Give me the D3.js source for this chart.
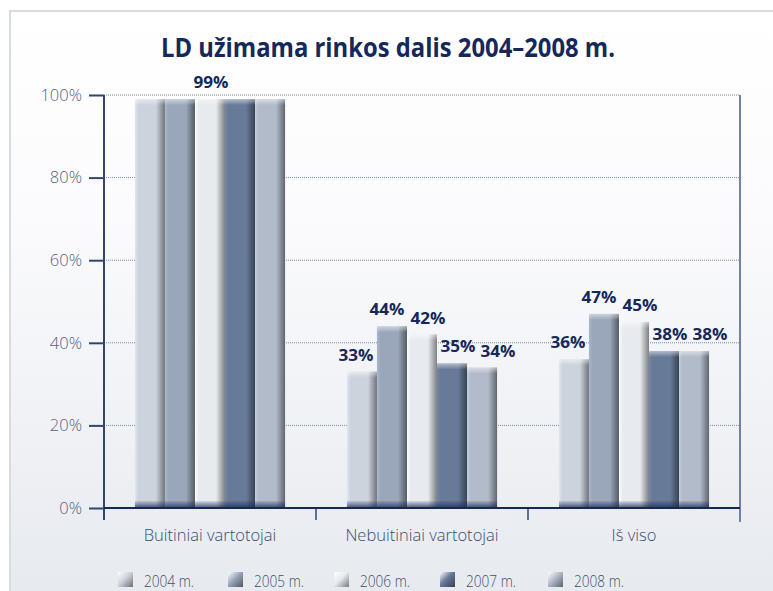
<!DOCTYPE html>
<html>
<head>
<meta charset="utf-8">
<script src="https://cdn.jsdelivr.net/npm/d3@7"></script>
<style>
  body { margin: 0; background: #fff; }
  text { font-family: "Open Sans", "Noto Sans", sans-serif; }
</style>
</head>
<body>
<script>
// Data
const categories = ['Buitiniai vartotojai', 'Nebuitiniai vartotojai', 'Iš viso'];
const years = ['2004 m.', '2005 m.', '2006 m.', '2007 m.', '2008 m.'];
const values2004 = [99, 33, 36];
const values2005 = [99, 44, 47];
const values2006 = [99, 42, 45];
const values2007 = [99, 35, 38];
const values2008 = [99, 34, 38];
const yTicks = [0, 20, 40, 60, 80, 100];

const seriesValues = [values2004, values2005, values2006, values2007, values2008];
const colors = ['#cdd3dd', '#9aa7ba', '#e7eaef', '#677a98', '#b2bbca'];
// label nudges so neighbouring labels don't collide
const labelShift = [-6, -5, 6, 6, 16];

let width = 773, height = 591;
let margin = { top: 95, bottom: 82, left: 104, right: 33 };

let svg = d3.select('body')
    .append('svg')
    .attr('width', width)
    .attr('height', height);

let defs = svg.append('defs');

// panel background
let bg = defs.append('linearGradient').attr('id', 'bg')
    .attr('x1', 0).attr('y1', 0).attr('x2', 0).attr('y2', 1);
bg.append('stop').attr('offset', '0%').attr('stop-color', '#ffffff');
bg.append('stop').attr('offset', '35%').attr('stop-color', '#fbfbfd');
bg.append('stop').attr('offset', '100%').attr('stop-color', '#e7eaef');

svg.append('rect')
    .attr('x', 9).attr('y', 10)
    .attr('width', width - 9).attr('height', height - 10)
    .attr('fill', 'url(#bg)');
svg.append('path')
    .attr('d', `M10,${height} V11 H${width}`)
    .attr('fill', 'none')
    .attr('stroke', '#d6dbe4')
    .attr('stroke-width', 2);

// bar gradients
colors.forEach((c, i) => {
    let dark = d3.color(c).darker(1.7);
    let g = defs.append('linearGradient').attr('id', 'bar' + i)
        .attr('x1', 0).attr('y1', 0).attr('x2', 1).attr('y2', 0);
    g.append('stop').attr('offset', '0%').attr('stop-color', d3.color(c).brighter(0.25));
    g.append('stop').attr('offset', '12%').attr('stop-color', c);
    g.append('stop').attr('offset', '70%').attr('stop-color', c);
    g.append('stop').attr('offset', '100%').attr('stop-color', dark);

    let s = defs.append('linearGradient').attr('id', 'sw' + i)
        .attr('x1', 0).attr('y1', 0).attr('x2', 1).attr('y2', 1);
    s.append('stop').attr('offset', '0%').attr('stop-color', '#ffffff');
    s.append('stop').attr('offset', '45%').attr('stop-color', c);
    s.append('stop').attr('offset', '100%').attr('stop-color', d3.color(c).darker(1.8));
});
let topShade = defs.append('linearGradient').attr('id', 'topShade')
    .attr('x1', 0).attr('y1', 0).attr('x2', 0).attr('y2', 1);
topShade.append('stop').attr('offset', '0%').attr('stop-color', '#ffffff').attr('stop-opacity', 0.5);
topShade.append('stop').attr('offset', '100%').attr('stop-color', '#ffffff').attr('stop-opacity', 0);
let botShade = defs.append('linearGradient').attr('id', 'botShade')
    .attr('x1', 0).attr('y1', 0).attr('x2', 0).attr('y2', 1);
botShade.append('stop').attr('offset', '0%').attr('stop-color', '#1a2c55').attr('stop-opacity', 0.1);
botShade.append('stop').attr('offset', '100%').attr('stop-color', '#1a2c55').attr('stop-opacity', 0.8);

// Scales
let xScale = d3.scaleBand()
    .domain(categories)
    .range([margin.left, width - margin.right]);

let xInner = d3.scaleBand()
    .domain(years)
    .range([0, xScale.bandwidth()])
    .paddingOuter(1.03);

let yScale = d3.scaleLinear()
    .domain([0, 100])
    .range([height - margin.bottom - 1, margin.top]);

// Title
svg.append('text')
    .attr('x', 388).attr('y', 57)
    .attr('text-anchor', 'middle')
    .style('font-size', '27px')
    .style('font-weight', 'bold')
    .style('fill', '#14295a')
    .attr('textLength', 454)
    .attr('lengthAdjust', 'spacingAndGlyphs')
    .text('LD užimama rinkos dalis 2004–2008 m.');

// Gridlines
svg.append('g')
    .selectAll('line')
    .data(yTicks.filter(d => d > 0))
    .enter()
    .append('line')
    .attr('x1', margin.left).attr('x2', width - margin.right)
    .attr('y1', d => yScale(d)).attr('y2', d => yScale(d))
    .attr('stroke', '#7a88a4')
    .attr('stroke-width', 1)
    .attr('stroke-dasharray', '1,1');

// Bars
let rows = [];
categories.forEach((c, ci) => {
    years.forEach((y, yi) => {
        rows.push({ cat: c, year: y, yi: yi, value: seriesValues[yi][ci] });
    });
});

let bars = svg.append('g').selectAll('g')
    .data(rows)
    .enter()
    .append('g')
    .attr('transform', d => `translate(${xScale(d.cat) + xInner(d.year)},0)`);

bars.append('rect')
    .attr('y', d => yScale(d.value))
    .attr('width', xInner.bandwidth())
    .attr('height', d => yScale(0) - yScale(d.value))
    .attr('fill', d => `url(#bar${d.yi})`);
bars.append('rect')
    .attr('y', d => yScale(d.value))
    .attr('width', xInner.bandwidth())
    .attr('height', 6)
    .attr('fill', 'url(#topShade)');
bars.append('rect')
    .attr('y', d => yScale(0) - 7)
    .attr('width', xInner.bandwidth())
    .attr('height', 7)
    .attr('fill', 'url(#botShade)');

// Value labels
let labels = [];
categories.forEach((c, ci) => {
    if (ci === 0) {
        labels.push({ x: xScale(c) + xScale.bandwidth() / 2 + 1, value: seriesValues[0][ci] });
    } else {
        years.forEach((y, yi) => {
            labels.push({ x: xScale(c) + xInner(y) + xInner.bandwidth() / 2 + labelShift[yi], value: seriesValues[yi][ci] });
        });
    }
});
svg.append('g')
    .selectAll('text')
    .data(labels)
    .enter()
    .append('text')
    .attr('x', d => d.x)
    .attr('y', d => yScale(d.value) - 11)
    .attr('text-anchor', 'middle')
    .style('font-size', '16.5px')
    .style('font-weight', 'bold')
    .style('fill', '#14295a')
    .attr('textLength', 35)
    .attr('lengthAdjust', 'spacingAndGlyphs')
    .text(d => d.value + '%');

// Y axis
let yAxis = svg.append('g')
    .attr('transform', `translate(${margin.left},0)`)
    .call(d3.axisLeft(yScale).tickValues(yTicks).tickFormat(d => d + '%').tickSize(15).tickPadding(7));
yAxis.select('.domain').remove();
yAxis.selectAll('.tick line').attr('stroke', '#31466f').attr('stroke-width', 2);
yAxis.selectAll('.tick text')
    .style('font-size', '16.5px')
    .style('fill', '#55647f')
    .style('font-weight', 300);
yAxis.append('line')
    .attr('y1', yScale(100)).attr('y2', yScale(0) + 12)
    .attr('stroke', '#31466f').attr('stroke-width', 2);

// right axis line
svg.append('line')
    .attr('x1', width - margin.right).attr('x2', width - margin.right)
    .attr('y1', yScale(100)).attr('y2', yScale(0) + 14)
    .attr('stroke', '#7083a4').attr('stroke-width', 2);

// X axis
let boundaries = categories.map(c => xScale(c)).concat([xScale.range()[1]]);
svg.append('g')
    .selectAll('line')
    .data(boundaries.slice(1, 3))
    .enter()
    .append('line')
    .attr('x1', d => d).attr('x2', d => d)
    .attr('y1', yScale(0)).attr('y2', yScale(0) + 12)
    .attr('stroke', '#5f7090').attr('stroke-width', 2);
svg.append('line')
    .attr('x1', margin.left).attr('x2', width - margin.right)
    .attr('y1', yScale(0)).attr('y2', yScale(0))
    .attr('stroke', '#14295a').attr('stroke-width', 2);

svg.append('g')
    .selectAll('text')
    .data(categories)
    .enter()
    .append('text')
    .attr('x', d => xScale(d) + xScale.bandwidth() / 2)
    .attr('y', 541)
    .attr('text-anchor', 'middle')
    .style('font-size', '16.5px')
    .style('font-weight', 300)
    .style('fill', '#3b4d72')
    .text(d => d);

// Legend
let legendX = [118, 228, 334, 440, 548];
let legend = svg.append('g')
    .selectAll('g')
    .data(years)
    .enter()
    .append('g')
    .attr('transform', (d, i) => `translate(${legendX[i]},572)`);
legend.append('rect')
    .attr('width', 15).attr('height', 15)
    .attr('fill', (d, i) => `url(#sw${i})`);
legend.append('text')
    .attr('x', 26).attr('y', 15)
    .style('font-size', '16px')
    .style('font-weight', 300)
    .style('fill', '#3b4d72')
    .attr('textLength', 50)
    .attr('lengthAdjust', 'spacingAndGlyphs')
    .text(d => d);
</script>
</body>
</html>
